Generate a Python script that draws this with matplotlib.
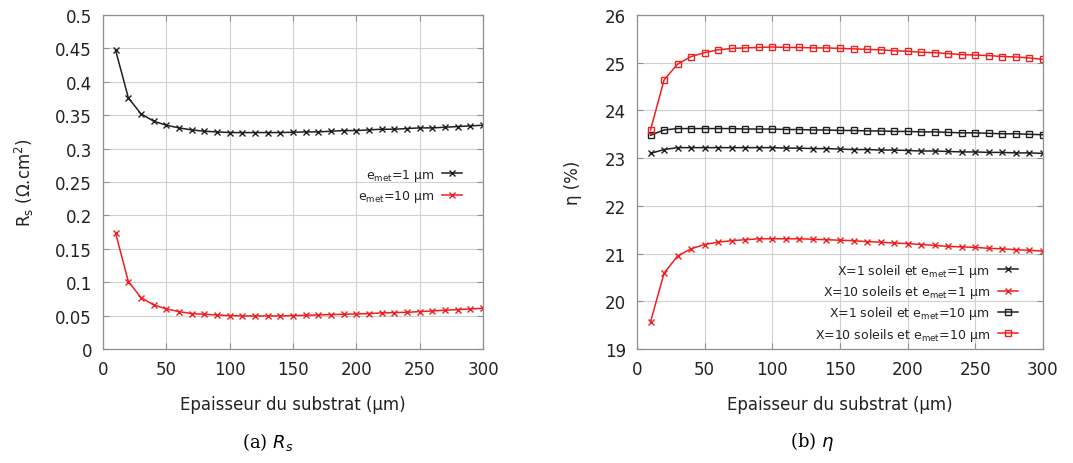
import matplotlib
matplotlib.use("Agg")
import matplotlib.pyplot as plt

thickness = list(range(10, 301, 10))

rs_1um = [0.447, 0.376, 0.352, 0.341, 0.335, 0.331, 0.328, 0.326, 0.325, 0.324,
          0.324, 0.324, 0.324, 0.324, 0.3245, 0.325, 0.325, 0.326, 0.327, 0.327,
          0.328, 0.329, 0.329, 0.330, 0.331, 0.331, 0.332, 0.333, 0.334, 0.335]
rs_10um = [0.173, 0.101, 0.077, 0.066, 0.060, 0.056, 0.053, 0.052, 0.051, 0.050,
           0.0495, 0.0495, 0.0495, 0.0495, 0.050, 0.0505, 0.051, 0.0515, 0.052, 0.0525,
           0.053, 0.054, 0.0545, 0.055, 0.056, 0.057, 0.058, 0.059, 0.060, 0.061]

eta_x1_1um = [23.10, 23.18, 23.22, 23.22, 23.22, 23.22, 23.22, 23.22, 23.22, 23.22,
              23.21, 23.21, 23.20, 23.20, 23.19, 23.18, 23.18, 23.17, 23.17, 23.16,
              23.15, 23.15, 23.14, 23.13, 23.13, 23.12, 23.12, 23.11, 23.11, 23.10]
eta_x10_1um = [19.57, 20.59, 20.95, 21.10, 21.19, 21.24, 21.27, 21.29, 21.31, 21.31,
               21.31, 21.31, 21.30, 21.29, 21.28, 21.27, 21.25, 21.24, 21.22, 21.21,
               21.19, 21.17, 21.15, 21.14, 21.13, 21.11, 21.10, 21.08, 21.07, 21.05]
eta_x1_10um = [23.48, 23.59, 23.62, 23.62, 23.62, 23.62, 23.62, 23.61, 23.61, 23.61,
               23.60, 23.60, 23.59, 23.59, 23.58, 23.58, 23.57, 23.57, 23.56, 23.56,
               23.55, 23.55, 23.54, 23.53, 23.53, 23.52, 23.51, 23.51, 23.50, 23.49]
eta_x10_10um = [23.59, 24.64, 24.97, 25.13, 25.21, 25.27, 25.30, 25.31, 25.32, 25.33,
                25.32, 25.32, 25.31, 25.31, 25.30, 25.29, 25.28, 25.27, 25.25, 25.24,
                25.22, 25.21, 25.19, 25.17, 25.16, 25.15, 25.13, 25.12, 25.10, 25.07]

rs_labels = [r"e$_{\mathrm{met}}$=1 µm", r"e$_{\mathrm{met}}$=10 µm"]
eta_labels = [r"X=1 soleil et e$_{\mathrm{met}}$=1 µm",
              r"X=10 soleils et e$_{\mathrm{met}}$=1 µm",
              r"X=1 soleil et e$_{\mathrm{met}}$=10 µm",
              r"X=10 soleils et e$_{\mathrm{met}}$=10 µm"]

RED = "#ee2020"
BLK = "#202020"
TXT = "#222222"

fig = plt.figure(figsize=(10.73, 4.64), dpi=100)
W, H = 1073, 464
ax1 = fig.add_axes([103 / W, 1 - 350 / H, 380 / W, 334 / H])
ax2 = fig.add_axes([637 / W, 1 - 350 / H, 406 / W, 334 / H])

def style(ax):
    ax.grid(True, color="#d0d0d0", linewidth=0.8)
    ax.set_axisbelow(True)
    for s in ax.spines.values():
        s.set_color("#909090")
        s.set_linewidth(0.9)
    ax.tick_params(direction="in", top=True, right=True, length=4,
                   color="#909090", labelsize=12, labelcolor=TXT, pad=8)
    ax.set_xlim(0, 300)
    ax.set_xticks([0, 50, 100, 150, 200, 250, 300])
    ax.set_xlabel("Epaisseur du substrat (µm)", fontsize=12, color=TXT, labelpad=12)

mk = dict(markersize=4.5, linewidth=1.1, markeredgewidth=1.0)
ax1.plot(thickness, rs_1um, color=BLK, marker="x", label=rs_labels[0], **mk)
ax1.plot(thickness, rs_10um, color=RED, marker="x", label=rs_labels[1], **mk)
style(ax1)
ax1.set_ylim(0, 0.5)
ax1.set_yticks([0, 0.05, 0.1, 0.15, 0.2, 0.25, 0.3, 0.35, 0.4, 0.45, 0.5])
ax1.set_yticklabels(["0", "0.05", "0.1", "0.15", "0.2", "0.25", "0.3", "0.35", "0.4", "0.45", "0.5"])
ax1.set_ylabel(r"R$_\mathrm{s}$ ($\Omega$.cm$^2$)", fontsize=12, color=TXT, labelpad=14)
ax1.legend(loc="upper right", bbox_to_anchor=(0.975, 0.58), frameon=False,
           markerfirst=False, fontsize=9, handlelength=1.6, handletextpad=0.6,
           labelspacing=0.45, labelcolor=TXT)

ax2.plot(thickness, eta_x1_1um, color=BLK, marker="x", label=eta_labels[0], **mk)
ax2.plot(thickness, eta_x10_1um, color=RED, marker="x", label=eta_labels[1], **mk)
ax2.plot(thickness, eta_x1_10um, color=BLK, marker="s", markerfacecolor="none",
         label=eta_labels[2], markersize=4, linewidth=1.1, markeredgewidth=1.0)
ax2.plot(thickness, eta_x10_10um, color=RED, marker="s", markerfacecolor="none",
         label=eta_labels[3], markersize=4, linewidth=1.1, markeredgewidth=1.0)
style(ax2)
ax2.set_ylim(19, 26)
ax2.set_yticks(range(19, 27))
ax2.set_ylabel("η (%)", fontsize=12, color=TXT, labelpad=16)
ax2.legend(loc="lower right", bbox_to_anchor=(0.965, -0.015), frameon=False,
           markerfirst=False, fontsize=9, handlelength=1.6, handletextpad=0.6,
           labelspacing=0.35, labelcolor=TXT)

fig.text(268 / W, 1 - 442 / H, r"(a) $R_s$", ha="center", va="center",
         fontsize=13, family="DejaVu Serif")
fig.text(812 / W, 1 - 442 / H, r"(b) $\eta$", ha="center", va="center",
         fontsize=13, family="DejaVu Serif")

fig.savefig("out.png", dpi=100)
